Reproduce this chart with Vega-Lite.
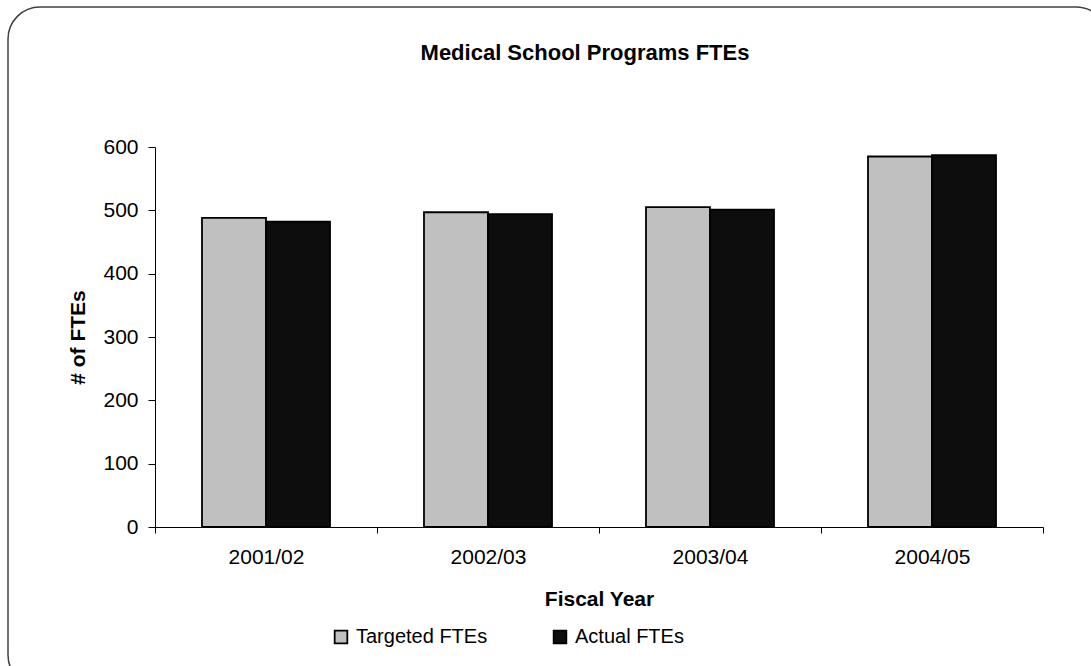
{
  "$schema": "https://vega.github.io/schema/vega-lite/v6.json",
  "width": 1100,
  "height": 680,
  "autosize": {"type": "none"},
  "padding": {"left": 8, "top": 7, "right": 0, "bottom": 0},
  "background": "white",
  "title": {
    "text": "Medical School Programs FTEs",
    "font": "Liberation Sans",
    "fontSize": 22,
    "fontWeight": "bold",
    "color": "black",
    "anchor": "middle",
    "dx": 27,
    "dy": 62
  },
  "data": {
    "values": [
      {"year": "2001/02", "series": "Targeted FTEs", "value": 488},
      {"year": "2001/02", "series": "Actual FTEs", "value": 482},
      {"year": "2002/03", "series": "Targeted FTEs", "value": 497},
      {"year": "2002/03", "series": "Actual FTEs", "value": 494},
      {"year": "2003/04", "series": "Targeted FTEs", "value": 505},
      {"year": "2003/04", "series": "Actual FTEs", "value": 501},
      {"year": "2004/05", "series": "Targeted FTEs", "value": 585},
      {"year": "2004/05", "series": "Actual FTEs", "value": 587}
    ]
  },
  "mark": {"type": "bar", "stroke": "black", "strokeWidth": 1.8},
  "encoding": {
    "x": {
      "field": "year",
      "type": "nominal",
      "scale": {"range": [147, 1035], "paddingInner": 0, "paddingOuter": 0},
      "axis": {
        "offset": -160,
        "title": "Fiscal Year",
        "titleFont": "Liberation Sans",
        "titleFontSize": 21,
        "titleFontWeight": "bold",
        "titleColor": "black",
        "titlePadding": 21,
        "labelFont": "Liberation Sans",
        "labelFontSize": 21,
        "labelColor": "black",
        "labelAngle": 0,
        "labelPadding": 13,
        "domainColor": "black",
        "domainWidth": 1,
        "tickColor": "black",
        "tickBand": "extent",
        "tickSize": 6
      }
    },
    "xOffset": {
      "field": "series",
      "type": "nominal",
      "sort": ["Targeted FTEs", "Actual FTEs"],
      "scale": {"paddingInner": 0, "paddingOuter": 0.734}
    },
    "y": {
      "field": "value",
      "type": "quantitative",
      "scale": {"domain": [0, 600], "range": [520, 140], "nice": false},
      "axis": {
        "offset": -147,
        "title": "# of FTEs",
        "titleFont": "Liberation Sans",
        "titleFontSize": 21,
        "titleFontWeight": "bold",
        "titleColor": "black",
        "titlePadding": 14,
        "labelFont": "Liberation Sans",
        "labelFontSize": 21,
        "labelColor": "black",
        "labelPadding": 10,
        "values": [0, 100, 200, 300, 400, 500, 600],
        "grid": false,
        "domainColor": "black",
        "domainWidth": 1,
        "tickColor": "black",
        "tickSize": 7
      }
    },
    "color": {
      "field": "series",
      "type": "nominal",
      "sort": ["Targeted FTEs", "Actual FTEs"],
      "scale": {"domain": ["Targeted FTEs", "Actual FTEs"], "range": ["#C0C0C0", "#0D0D0D"]},
      "legend": {
        "title": null,
        "orient": "none",
        "direction": "horizontal",
        "legendX": 323,
        "legendY": 620,
        "symbolType": "square",
        "symbolSize": 160,
        "symbolStrokeColor": "black",
        "symbolStrokeWidth": 1.8,
        "symbolOpacity": 1,
        "labelFont": "Liberation Sans",
        "labelFontSize": 20,
        "labelColor": "black",
        "labelOffset": 5,
        "columnPadding": 62
      }
    }
  },
  "config": {
    "view": {"stroke": "#404040", "strokeWidth": 1.5, "cornerRadius": 32}
  }
}
